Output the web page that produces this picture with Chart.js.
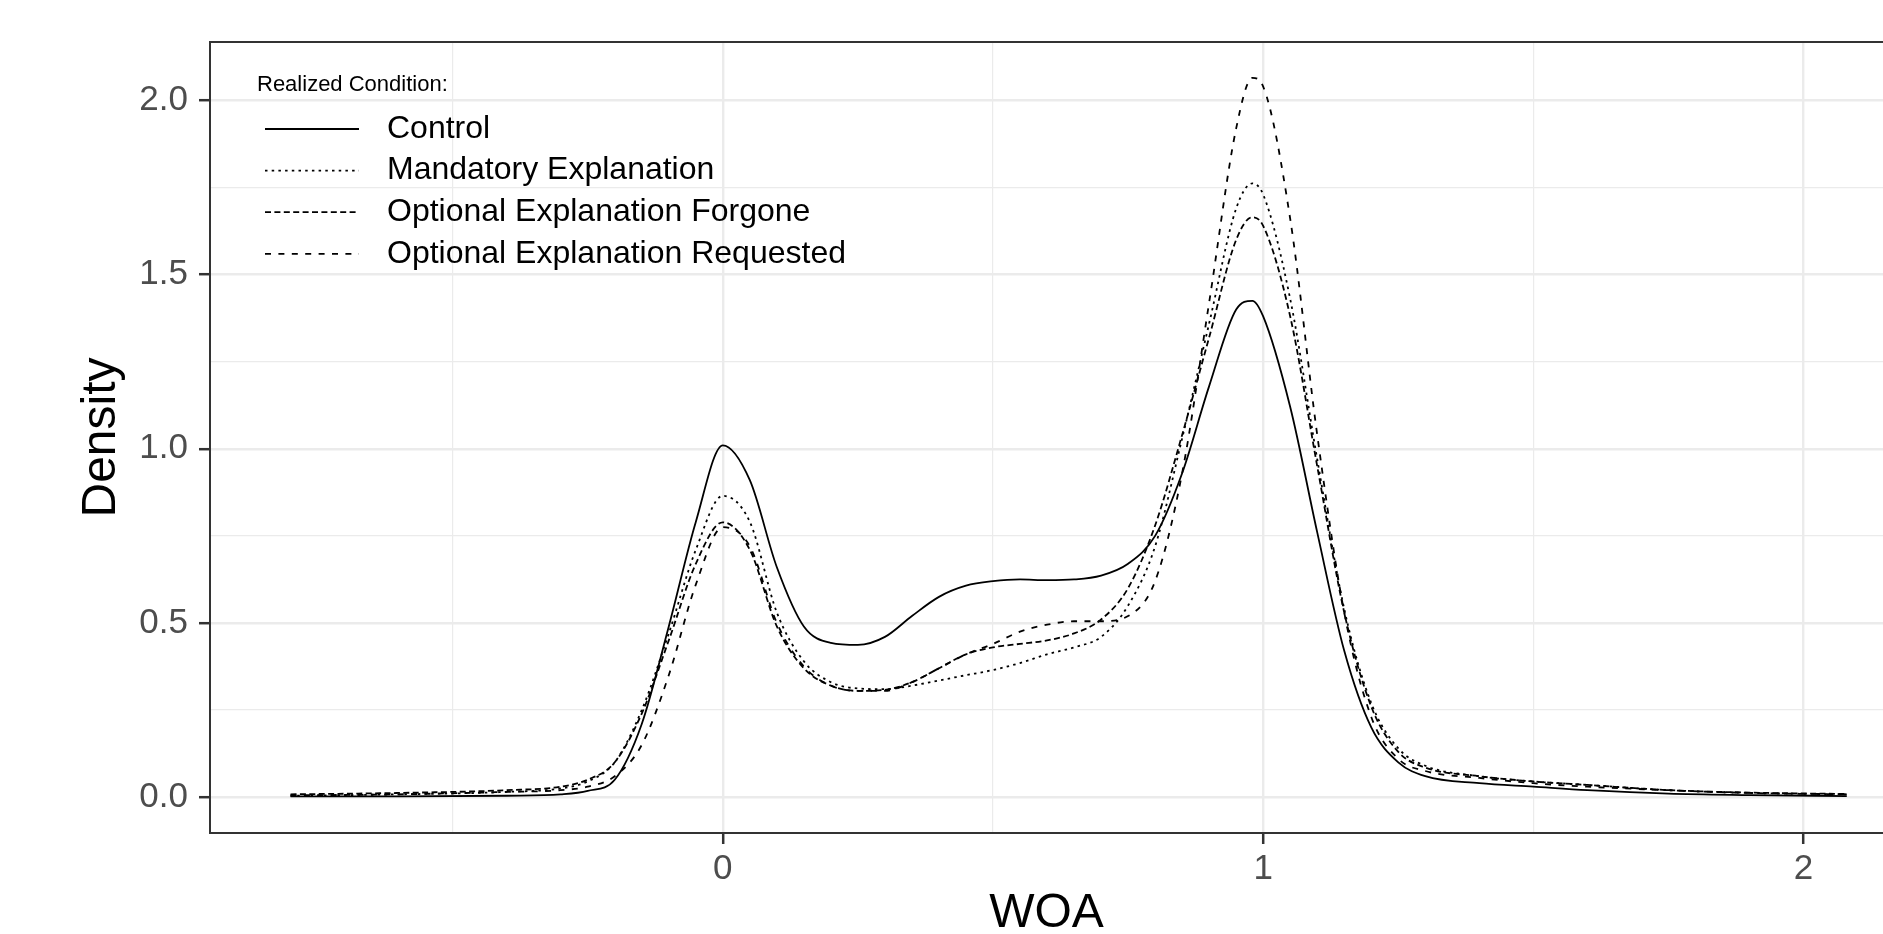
<!DOCTYPE html>
<html>
<head>
<meta charset="utf-8">
<script src="https://cdn.jsdelivr.net/npm/chart.js@4.4.1/dist/chart.umd.min.js"></script>
<style>
  html, body { margin: 0; padding: 0; background: #fff; }
  canvas { display: block; }
</style>
</head>
<body>
<canvas id="chart" width="1883" height="934"></canvas>
<script>
const FONT = "'Liberation Sans', Arial, Helvetica, sans-serif";

// WOA grid of the density estimate
const woa = [-0.80, -0.60, -0.40, -0.30, -0.25, -0.20, -0.15, -0.10, -0.05, 0.00,
    0.05, 0.10, 0.15, 0.20, 0.25, 0.30, 0.35, 0.40, 0.45, 0.50,
    0.55, 0.60, 0.65, 0.70, 0.75, 0.80, 0.85, 0.90, 0.95, 0.98,
    1.00, 1.05, 1.10, 1.15, 1.20, 1.25, 1.30, 1.40, 1.50, 1.60,
    1.75, 1.90, 2.08];

const control = [0.002, 0.002, 0.004, 0.008, 0.018, 0.05, 0.21, 0.49, 0.79, 1.01,
    0.91, 0.66, 0.49, 0.443, 0.437, 0.46, 0.52, 0.575, 0.607, 0.62,
    0.625, 0.623, 0.625, 0.636, 0.67, 0.75, 0.93, 1.18, 1.40, 1.425,
    1.38, 1.12, 0.76, 0.42, 0.20, 0.10, 0.06, 0.04, 0.03, 0.02,
    0.01, 0.006, 0.003];

const mandatory = [0.004, 0.008, 0.015, 0.025, 0.045, 0.10, 0.25, 0.47, 0.71, 0.865,
    0.79, 0.53, 0.39, 0.33, 0.312, 0.31, 0.32, 0.335, 0.35, 0.365,
    0.385, 0.41, 0.43, 0.46, 0.55, 0.72, 1.03, 1.36, 1.69, 1.762,
    1.73, 1.43, 0.97, 0.54, 0.27, 0.14, 0.09, 0.06, 0.045, 0.035,
    0.02, 0.012, 0.008];

const forgone = [0.008, 0.012, 0.02, 0.03, 0.05, 0.10, 0.24, 0.45, 0.67, 0.789,
    0.71, 0.49, 0.37, 0.32, 0.305, 0.308, 0.33, 0.37, 0.41, 0.43,
    0.44, 0.45, 0.47, 0.51, 0.60, 0.78, 1.04, 1.32, 1.60, 1.665,
    1.64, 1.38, 0.95, 0.53, 0.26, 0.13, 0.085, 0.06, 0.045, 0.035,
    0.02, 0.013, 0.009];

const requested = [0.005, 0.008, 0.015, 0.02, 0.03, 0.06, 0.15, 0.35, 0.61, 0.775,
    0.72, 0.50, 0.375, 0.32, 0.305, 0.305, 0.33, 0.37, 0.41, 0.44,
    0.475, 0.495, 0.505, 0.505, 0.52, 0.62, 0.93, 1.42, 1.92, 2.065,
    2.04, 1.66, 1.04, 0.53, 0.23, 0.11, 0.075, 0.055, 0.04, 0.03,
    0.02, 0.012, 0.008];

const seriesNames = ["Control", "Mandatory Explanation", "Optional Explanation Forgone", "Optional Explanation Requested"];
const legendTitle = "Realized Condition:";

const xMajor = [0, 1, 2];
const xMinor = [-0.5, 0.5, 1.5];
const yMajor = [0, 0.5, 1, 1.5, 2];
const yMinor = [0.25, 0.75, 1.25, 1.75];

const dashes = [[], [2.5, 4.2], [6, 3.4], [6, 7.4]];

function points(ys) {
    return woa.map((x, i) => ({ x: x, y: ys[i] }));
}

const datasets = [control, mandatory, forgone, requested].map((ys, i) => ({
    label: seriesNames[i],
    data: points(ys),
    borderColor: "#000000",
    borderWidth: 1.8,
    borderDash: dashes[i],
    pointRadius: 0,
    fill: false,
    cubicInterpolationMode: "monotone",
}));

const isMajor = (list, v) => list.some((m) => Math.abs(m - v) < 1e-9);

// panel border (left, top, bottom; right edge falls outside the picture)
const panelBorder = {
    id: "panelBorder",
    afterDatasetsDraw(chart) {
        const { ctx, chartArea: a } = chart;
        ctx.save();
        ctx.strokeStyle = "#333333";
        ctx.lineWidth = 2;
        ctx.beginPath();
        ctx.moveTo(a.right + 2, a.top);
        ctx.lineTo(a.left, a.top);
        ctx.lineTo(a.left, a.bottom);
        ctx.lineTo(a.right + 2, a.bottom);
        ctx.stroke();
        ctx.restore();
    },
};

// legend inside the panel, top-left
const insideLegend = {
    id: "insideLegend",
    afterDatasetsDraw(chart) {
        const ctx = chart.ctx;
        ctx.save();
        ctx.fillStyle = "#000000";
        ctx.textBaseline = "middle";
        ctx.textAlign = "left";
        ctx.font = "22px " + FONT;
        ctx.fillText(legendTitle, 257, 85);
        chart.data.datasets.forEach((ds, i) => {
            const y = 129 + i * 41.6;
            ctx.strokeStyle = "#000000";
            ctx.lineWidth = ds.borderWidth;
            ctx.setLineDash(ds.borderDash);
            ctx.beginPath();
            ctx.moveTo(265, y);
            ctx.lineTo(359, y);
            ctx.stroke();
            ctx.setLineDash([]);
            ctx.font = "32px " + FONT;
            ctx.fillText(ds.label, 387, y);
        });
        ctx.restore();
    },
};

new Chart(document.getElementById("chart"), {
    type: "line",
    data: { datasets: datasets },
    plugins: [panelBorder, insideLegend],
    options: {
        responsive: false,
        animation: false,
        devicePixelRatio: 1,
        layout: { padding: { top: 42, left: 0, right: 0, bottom: 0 } },
        plugins: {
            legend: { display: false },
            tooltip: { enabled: false },
        },
        scales: {
            x: {
                type: "linear",
                min: -0.949,
                max: 2.147,
                afterBuildTicks: (s) => {
                    s.ticks = xMinor.concat(xMajor).sort((a, b) => a - b).map((v) => ({ value: v }));
                },
                afterFit: (s) => { s.height = 101; },
                ticks: {
                    autoSkip: false,
                    maxRotation: 0,
                    padding: 4,
                    color: "#4D4D4D",
                    font: { size: 35, family: FONT },
                    callback: (v) => (isMajor(xMajor, v) ? String(v) : ""),
                },
                grid: {
                    color: "#EBEBEB",
                    lineWidth: (c) => (isMajor(xMajor, c.tick.value) ? 2.4 : 1.2),
                    tickLength: 11,
                    tickWidth: 2.5,
                    tickColor: (c) => (isMajor(xMajor, c.tick.value) ? "#333333" : "rgba(0,0,0,0)"),
                },
                border: { display: false },
                title: {
                    display: true,
                    text: "WOA",
                    color: "#000000",
                    font: { size: 48, family: FONT },
                    padding: { top: 0, bottom: -9 },
                },
            },
            y: {
                type: "linear",
                min: -0.103,
                max: 2.168,
                afterBuildTicks: (s) => {
                    s.ticks = yMinor.concat(yMajor).sort((a, b) => a - b).map((v) => ({ value: v }));
                },
                afterFit: (s) => { s.width = 210; },
                ticks: {
                    padding: 11,
                    color: "#4D4D4D",
                    font: { size: 35, family: FONT },
                    callback: (v) => (isMajor(yMajor, v) ? v.toFixed(1) : ""),
                },
                grid: {
                    color: "#EBEBEB",
                    lineWidth: (c) => (isMajor(yMajor, c.tick.value) ? 2.4 : 1.2),
                    tickLength: 11,
                    tickWidth: 2.5,
                    tickColor: (c) => (isMajor(yMajor, c.tick.value) ? "#333333" : "rgba(0,0,0,0)"),
                },
                border: { display: false },
                title: {
                    display: true,
                    text: "Density",
                    color: "#000000",
                    font: { size: 48, family: FONT },
                    padding: { top: 73, bottom: 0 },
                },
            },
        },
    },
});
</script>
</body>
</html>
